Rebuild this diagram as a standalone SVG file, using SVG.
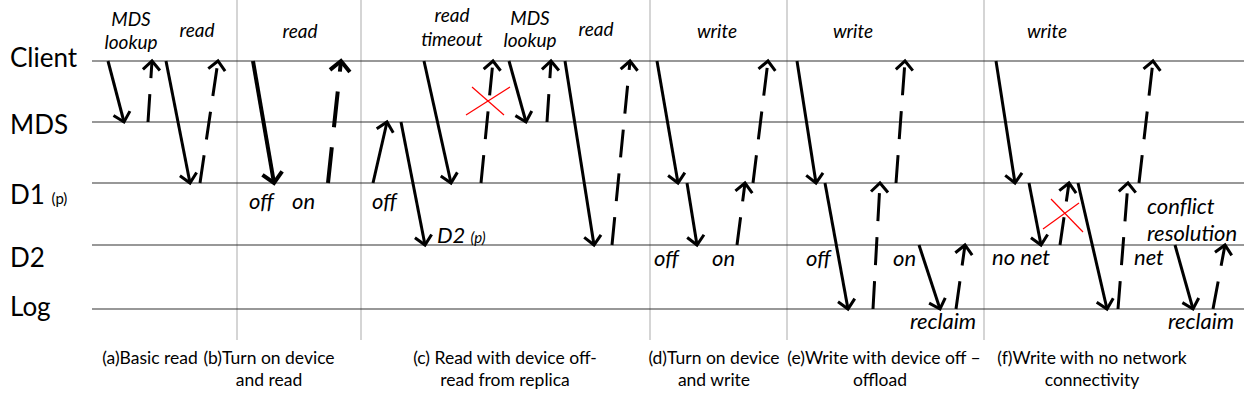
<svg xmlns="http://www.w3.org/2000/svg" width="1244" height="418" viewBox="0 0 1244 418">
<style>
text{font-family:Lato,"Liberation Sans",sans-serif;fill:#000}
.lane{font-size:26px}
.sm{font-size:15px}
.top{font-size:19px;font-style:italic;text-anchor:middle}
.lbl{font-size:22px;font-style:italic}
.lsm{font-size:15px;font-style:italic}
.cap{font-size:17.5px;text-anchor:middle}
.hl{stroke:#333;stroke-width:1.2}
.sep{stroke:#bfbfbf;stroke-width:1.3}
.s{stroke:#000;stroke-width:3;fill:none;marker-end:url(#ah)}
.d{stroke:#000;stroke-width:3;fill:none;stroke-dasharray:28 16;marker-end:url(#ah)}
.sb{stroke:#000;stroke-width:4;fill:none;marker-end:url(#ahb)}
.db{stroke:#000;stroke-width:4;fill:none;stroke-dasharray:36 20;marker-end:url(#ahb)}
.x{stroke:#ff0000;stroke-width:1.2}
</style>
<defs>
<marker id="ah" markerUnits="userSpaceOnUse" viewBox="-14 -12 18 24" markerWidth="18" markerHeight="24" refX="0" refY="0" orient="auto">
<path d="M-9,-8.5 L0,0 L-9,8.5" fill="none" stroke="#000" stroke-width="3"/>
</marker>
<marker id="ahb" markerUnits="userSpaceOnUse" viewBox="-16 -14 20 28" markerWidth="20" markerHeight="28" refX="0" refY="0" orient="auto">
<path d="M-10,-10 L0,0 L-10,10" fill="none" stroke="#000" stroke-width="4"/>
</marker>
</defs>
<rect width="1244" height="418" fill="#fff"/>
<g id="separators">
<line class="sep" x1="237" y1="0" x2="237" y2="340"/>
<line class="sep" x1="361" y1="0" x2="361" y2="340"/>
<line class="sep" x1="650" y1="0" x2="650" y2="340"/>
<line class="sep" x1="787" y1="0" x2="787" y2="340"/>
<line class="sep" x1="984" y1="0" x2="984" y2="340"/>
</g>
<g id="lane-client"><line class="hl" x1="92" y1="61" x2="1244" y2="61"/><text class="lane" x="10" y="67">Client</text></g>
<g id="lane-mds"><line class="hl" x1="92" y1="122" x2="1244" y2="122"/><text class="lane" x="10" y="134">MDS</text></g>
<g id="lane-d1"><line class="hl" x1="92" y1="183" x2="1244" y2="183"/><text class="lane" x="10" y="204">D1 <tspan class="sm">(p)</tspan></text></g>
<g id="lane-d2"><line class="hl" x1="92" y1="245" x2="1244" y2="245"/><text class="lane" x="10" y="267">D2</text></g>
<g id="lane-log"><line class="hl" x1="92" y1="309" x2="1244" y2="309"/><text class="lane" x="10" y="316">Log</text></g>
<g id="connectors">
<line class="s" x1="108" y1="61" x2="124" y2="122"/>
<line class="d" x1="148" y1="122" x2="152" y2="61"/>
<line class="s" x1="166" y1="61" x2="190" y2="183"/>
<line class="d" x1="200" y1="183" x2="218" y2="61"/>
<line class="sb" x1="253" y1="61" x2="274" y2="183"/>
<line class="db" x1="328" y1="183" x2="341" y2="61"/>
<line class="s" x1="373" y1="183" x2="387" y2="122"/>
<line class="s" x1="401" y1="122" x2="425" y2="245"/>
<line class="s" x1="424" y1="61" x2="451" y2="183"/>
<line class="d" x1="481" y1="183" x2="493" y2="61"/>
<line class="s" x1="509" y1="61" x2="526" y2="122"/>
<line class="d" x1="547" y1="122" x2="551" y2="61"/>
<line class="s" x1="565" y1="61" x2="594" y2="245"/>
<line class="d" x1="612" y1="245" x2="630" y2="61"/>
<line class="s" x1="657" y1="61" x2="678" y2="183"/>
<line class="s" x1="687" y1="183" x2="697" y2="245"/>
<line class="d" x1="737" y1="245" x2="745" y2="183"/>
<line class="d" x1="753" y1="183" x2="768" y2="61"/>
<line class="s" x1="797" y1="61" x2="816" y2="183"/>
<line class="s" x1="825" y1="183" x2="848" y2="309"/>
<line class="d" x1="873" y1="309" x2="880" y2="183"/>
<line class="d" x1="896" y1="183" x2="905" y2="61"/>
<line class="s" x1="919" y1="245" x2="940" y2="309"/>
<line class="d" x1="956" y1="309" x2="965" y2="245"/>
<line class="s" x1="996" y1="61" x2="1015" y2="183"/>
<line class="s" x1="1029" y1="183" x2="1041" y2="245"/>
<line class="d" x1="1060" y1="245" x2="1069" y2="183"/>
<line class="s" x1="1078" y1="183" x2="1107" y2="309"/>
<line class="d" x1="1118" y1="309" x2="1128" y2="183"/>
<line class="d" x1="1139" y1="183" x2="1153" y2="61"/>
<line class="s" x1="1175" y1="245" x2="1193" y2="309"/>
<line class="d" x1="1213" y1="309" x2="1225" y2="245"/>
</g>
<g id="failures">
<line class="x" x1="466" y1="115" x2="510" y2="87"/>
<line class="x" x1="472" y1="87" x2="504" y2="115"/>
<line class="x" x1="1043" y1="229" x2="1079" y2="203"/>
<line class="x" x1="1051" y1="199" x2="1083" y2="232"/>
</g>
<g id="panel-a">
<text class="top" x="131" y="26">MDS</text>
<text class="top" x="131" y="49">lookup</text>
<text class="top" x="197" y="37">read</text>
<text class="cap" x="150" y="364">(a)Basic read</text>
</g>
<g id="panel-b">
<text class="top" x="300" y="38">read</text>
<text class="lbl" x="249" y="209">off</text>
<text class="lbl" x="292" y="209">on</text>
<text class="cap" x="269" y="364">(b)Turn on device</text>
<text class="cap" x="269" y="386">and read</text>
</g>
<g id="panel-c">
<text class="top" x="452" y="22">read</text>
<text class="top" x="452" y="46">timeout</text>
<text class="top" x="530" y="25">MDS</text>
<text class="top" x="530" y="47">lookup</text>
<text class="top" x="596" y="36">read</text>
<text class="lbl" x="372" y="209">off</text>
<text class="lbl" x="437" y="243">D2 <tspan class="lsm">(p)</tspan></text>
<text class="cap" x="505" y="364">(c) Read with device off-</text>
<text class="cap" x="505" y="386">read from replica</text>
</g>
<g id="panel-d">
<text class="top" x="717" y="38">write</text>
<text class="lbl" x="654" y="266">off</text>
<text class="lbl" x="712" y="266">on</text>
<text class="cap" x="714" y="364">(d)Turn on device</text>
<text class="cap" x="714" y="386">and write</text>
</g>
<g id="panel-e">
<text class="top" x="853" y="38">write</text>
<text class="lbl" x="806" y="266">off</text>
<text class="lbl" x="893" y="266">on</text>
<text class="lbl" x="910" y="329">reclaim</text>
<text class="cap" x="884" y="364">(e)Write with device off –</text>
<text class="cap" x="880" y="386">offload</text>
</g>
<g id="panel-f">
<text class="top" x="1047" y="38">write</text>
<text class="lbl" x="992" y="265">no net</text>
<text class="lbl" x="1134" y="265">net</text>
<text class="lbl" x="1147" y="214">conflict</text>
<text class="lbl" x="1147" y="241">resolution</text>
<text class="lbl" x="1168" y="329">reclaim</text>
<text class="cap" x="1092" y="364">(f)Write with no network</text>
<text class="cap" x="1092" y="386">connectivity</text>
</g>
</svg>
